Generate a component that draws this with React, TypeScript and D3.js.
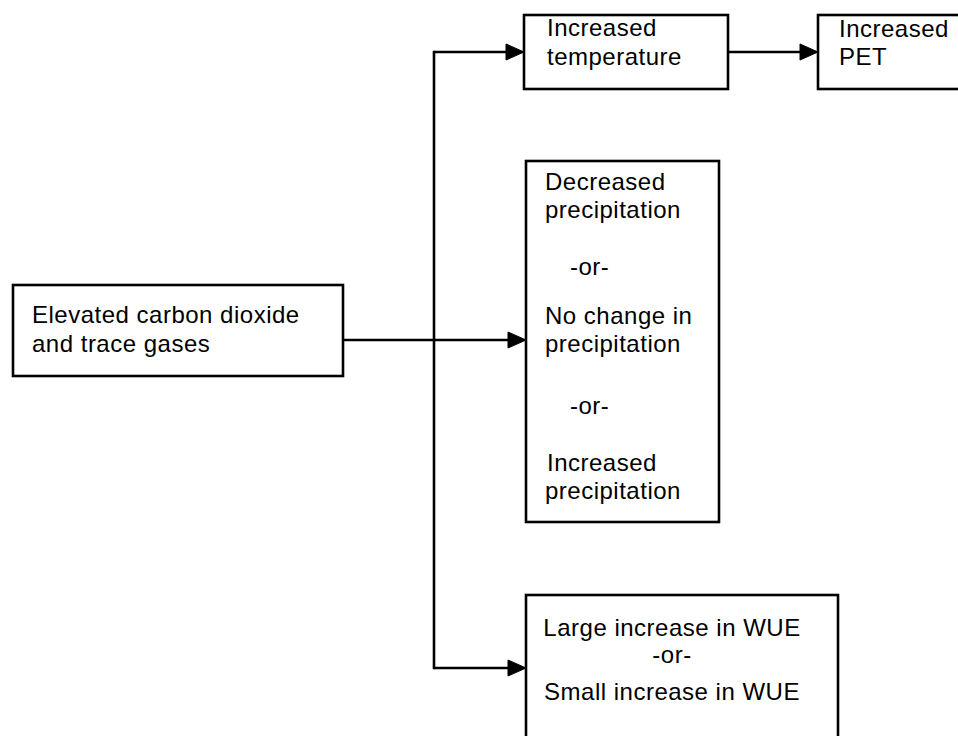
import React from "react";
import * as d3 from "d3";

// ---- content ----
const sourceLines = ["Elevated carbon dioxide", "and trace gases"];
const temperatureLines = ["Increased", "temperature"];
const petLines = ["Increased", "PET"];
const precipLines = [
  "Decreased",
  "precipitation",
  "-or-",
  "No change in",
  "precipitation",
  "-or-",
  "Increased",
  "precipitation",
];
const wueLines = ["Large increase in WUE", "-or-", "Small increase in WUE"];

// ---- layout ----
const W = 958;
const H = 736;
const FONT = "'Liberation Sans', Arial, Helvetica, sans-serif";
const FS = 24;

const boxes = {
  source: { x0: 13, x1: 343, y0: 285, y1: 376 },
  temp: { x0: 524, x1: 728, y0: 15, y1: 89 },
  pet: { x0: 818, x1: 1010, y0: 15, y1: 89 },
  precip: { x0: 526, x1: 719, y0: 161, y1: 522 },
  wue: { x0: 526, x1: 838, y0: 595, y1: 780 },
};

const trunkX = 434;
const rowTop = 52;
const rowMid = 340;
const rowBot = 668;

const sourceText = { x: 32, ys: [323, 352] };
const tempText = { x: 547, ys: [36, 65] };
const petText = { x: 839, ys: [37, 65] };
const precipText = {
  xs: [545, 545, 570, 545, 545, 570, 547, 545],
  ys: [190, 218, 275, 324, 352, 414, 471, 499],
};
const wueText = { cx: 672, ys: [636, 663, 700] };

const ARROW_LEN = 18;
const ARROW_HALF = 8;
const SW = 2.6;

const line = d3.line<[number, number]>();

function Box({ b }: { b: { x0: number; x1: number; y0: number; y1: number } }) {
  return (
    <rect
      x={b.x0}
      y={b.y0}
      width={b.x1 - b.x0}
      height={b.y1 - b.y0}
      fill="#fff"
      stroke="#000"
      strokeWidth={SW}
    />
  );
}

function Arrow({ x0, x1, y }: { x0: number; x1: number; y: number }) {
  const shaft = line([
    [x0, y],
    [x1 - ARROW_LEN + 2, y],
  ]) as string;
  const head = line([
    [x1, y],
    [x1 - ARROW_LEN, y - ARROW_HALF],
    [x1 - ARROW_LEN, y + ARROW_HALF],
    [x1, y],
  ]) as string;
  return (
    <g>
      <path d={shaft} stroke="#000" strokeWidth={SW} fill="none" />
      <path d={head + "Z"} fill="#000" stroke="#000" strokeWidth={1} strokeLinejoin="miter" />
    </g>
  );
}

export default function App() {
  const trunk = line([
    [trunkX, rowTop],
    [trunkX, rowBot],
  ]) as string;
  return (
    <svg
      width={W}
      height={H}
      viewBox={`0 0 ${W} ${H}`}
      style={{ position: "absolute", left: 0, top: 0, background: "#fff" }}
      fontFamily={FONT}
      fontSize={FS}
      letterSpacing={0.5}
    >
      <rect x={0} y={0} width={W} height={H} fill="#fff" />
      <path d={trunk} stroke="#000" strokeWidth={SW} fill="none" strokeLinecap="square" />
      <Arrow x0={trunkX} x1={boxes.temp.x0} y={rowTop} />
      <Arrow x0={boxes.source.x1} x1={boxes.precip.x0} y={rowMid} />
      <Arrow x0={trunkX} x1={boxes.wue.x0} y={rowBot} />
      <Arrow x0={boxes.temp.x1} x1={boxes.pet.x0} y={rowTop} />

      <Box b={boxes.source} />
      <Box b={boxes.temp} />
      <Box b={boxes.pet} />
      <Box b={boxes.precip} />
      <Box b={boxes.wue} />

      {sourceLines.map((t, i) => (
        <text key={"s" + i} x={sourceText.x} y={sourceText.ys[i]}>
          {t}
        </text>
      ))}
      {temperatureLines.map((t, i) => (
        <text key={"t" + i} x={tempText.x} y={tempText.ys[i]}>
          {t}
        </text>
      ))}
      {petLines.map((t, i) => (
        <text key={"p" + i} x={petText.x} y={petText.ys[i]}>
          {t}
        </text>
      ))}
      {precipLines.map((t, i) => (
        <text key={"r" + i} x={precipText.xs[i]} y={precipText.ys[i]}>
          {t}
        </text>
      ))}
      {wueLines.map((t, i) => (
        <text key={"w" + i} x={wueText.cx} y={wueText.ys[i]} textAnchor="middle">
          {t}
        </text>
      ))}
    </svg>
  );
}
